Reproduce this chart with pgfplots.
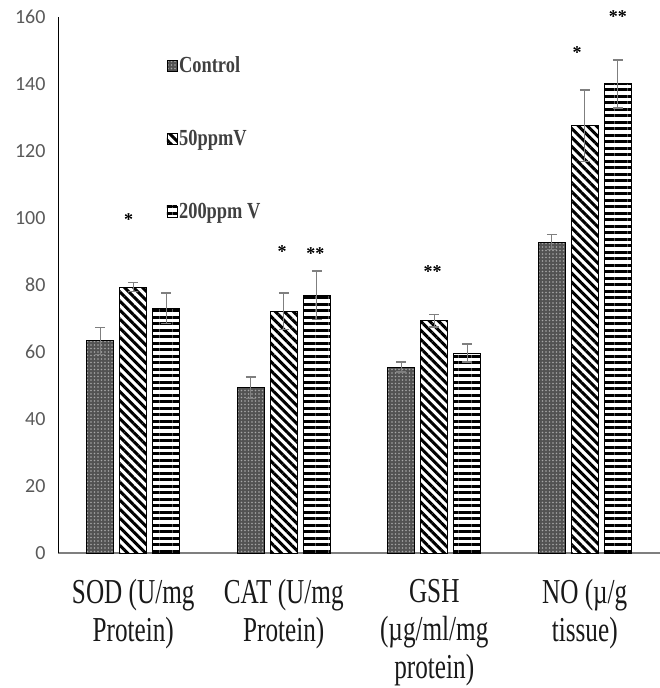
\documentclass[border=0pt]{standalone}
\usepackage{pgfplots}
\pgfplotsset{compat=1.18}
\usepackage{fontspec}
\usetikzlibrary{patterns.meta}
\setmainfont{Liberation Serif}
\newfontfamily\catfont[FakeStretch=0.72]{Liberation Serif}
\newfontfamily\legfont[FakeStretch=0.8]{Liberation Serif}
\newfontfamily\tickfont{Carlito}
\definecolor{tickgray}{HTML}{595959}
\definecolor{errgray}{HTML}{7F7F7F}
\begin{document}
\begin{tikzpicture}
\useasboundingbox (0,0) rectangle (660bp,688bp);
\begin{axis}[
  at={(58bp,135bp)}, anchor=south west,
  scale only axis, width=602bp, height=536bp,
  xmin=-0.5, xmax=3.5, ymin=0, ymax=160,
  clip=false,
  axis x line=bottom, axis y line=left,
  x axis line style={-, errgray, line width=2bp},
  y axis line style={-, black, line width=0.9bp},
  major tick length=0pt,
  ytick={0,20,...,160},
  xtick={0,1,2,3},
  xticklabels={{SOD (U/mg\\Protein)},{CAT (U/mg\\Protein)},{GSH\\(µg/ml/mg\\protein)},{NO (µ/g\\tissue)}},
  xticklabel style={align=center, font=\catfont\fontsize{35bp}{38bp}\selectfont, text=black!90, yshift=-23bp},
  yticklabel style={font=\tickfont\fontsize{20bp}{20bp}\selectfont, text=tickgray, xshift=-9bp},
  /pgf/number format/assume math mode=true,
  ybar=6bp, bar width=27bp,
  legend style={at={(rel axis cs:0.18,0.93)}, anchor=north west, draw=none, fill=none,
    font=\legfont\bfseries\fontsize{23bp}{26bp}\selectfont, text=black!75, row sep=52bp,
    inner sep=0pt, cells={anchor=west}},
  legend image code/.code={\draw[#1, line width=0.6bp] (0bp,-5.5bp) rectangle (10bp,5.5bp);},
  error bars/y dir=both, error bars/y explicit,
  error bars/error mark=|,
  error bars/error bar style={errgray, line width=1.3bp},
  error bars/error mark options={errgray, line width=1.3bp, mark size=5bp},
]
\addplot[draw=black, line width=1bp, fill=black!68,
  postaction={pattern={Dots[distance=3.5bp, radius=0.9bp]}, pattern color=black!35}]
  coordinates {(0,63.3) +- (0,4.0) (1,49.3) +- (0,3.2) (2,55.5) +- (0,1.5) (3,92.8) +- (0,2.2)};
\addplot[draw=black, line width=1bp, fill=white,
  postaction={pattern={Lines[angle=-45, distance=6.4bp, line width=3bp]}, pattern color=black}]
  coordinates {(0,79.4) +- (0,1.3) (1,72.2) +- (0,5.4) (2,69.3) +- (0,1.8) (3,127.5) +- (0,10.7)};
\addplot[draw=black, line width=1bp, fill=white,
  postaction={pattern={Lines[angle=0, distance=6.5bp, line width=3bp]}, pattern color=black}]
  coordinates {(0,73.1) +- (0,4.5) (1,77.0) +- (0,7.2) (2,59.7) +- (0,2.7) (3,140.0) +- (0,7.2)};
\legend{Control,50ppmV,200ppm V}
\node[font=\bfseries\fontsize{18bp}{18bp}\selectfont] at (axis cs:-0.03,99.5) {*};
\node[font=\bfseries\fontsize{18bp}{18bp}\selectfont] at (axis cs:0.99,90) {*};
\node[font=\bfseries\fontsize{18bp}{18bp}\selectfont] at (axis cs:1.21,89.5) {**};
\node[font=\bfseries\fontsize{18bp}{18bp}\selectfont] at (axis cs:1.99,84) {**};
\node[font=\bfseries\fontsize{18bp}{18bp}\selectfont] at (axis cs:2.95,149.5) {*};
\node[font=\bfseries\fontsize{18bp}{18bp}\selectfont] at (axis cs:3.22,160) {**};
\end{axis}
\end{tikzpicture}
\end{document}
